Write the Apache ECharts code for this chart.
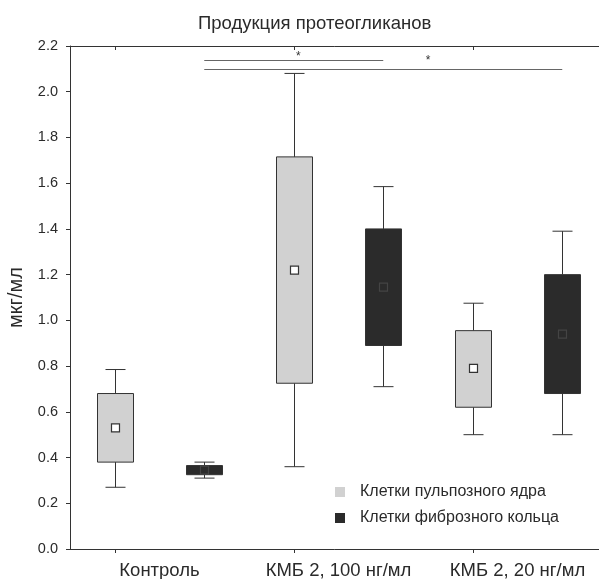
<!DOCTYPE html>
<html>
<head>
<meta charset="utf-8">
<script src="https://cdn.jsdelivr.net/npm/echarts@6/dist/echarts.min.js"></script>
<style>html,body{margin:0;padding:0;background:#fff;}#c{width:599px;height:579px;}</style>
</head>
<body>
<div id="c"></div>
<script>
// ---- data ----
const categories = ['Контроль', 'КМБ 2, 100 нг/мл', 'КМБ 2, 20 нг/мл'];
const seriesNames = ['Клетки пульпозного ядра', 'Клетки фиброзного кольца'];
const yTicks = [0, 0.2, 0.4, 0.6, 0.8, 1.0, 1.2, 1.4, 1.6, 1.8, 2.0, 2.2];

// Клетки пульпозного ядра
const pulpMin = [0.27, 0.36, 0.50];
const pulpQ1  = [0.38, 0.725, 0.62];
const pulpQ3  = [0.68, 1.715, 0.955];
const pulpMax = [0.785, 2.08, 1.075];
const pulpMid = [0.53, 1.22, 0.79];

// Клетки фиброзного кольца
const fibMin = [0.31, 0.71, 0.50];
const fibQ1  = [0.325, 0.89, 0.68];
const fibQ3  = [0.365, 1.40, 1.20];
const fibMax = [0.38, 1.585, 1.39];
const fibMid = [0.345, 1.145, 0.94];

// significance brackets (slot indices: group*2 + series)
const sigFrom  = [1, 1];
const sigTo    = [3, 5];
const sigLevel = [2.14, 2.10];
const sigStarX = [2.05, 3.5];
const sigStarY = [2.155, 2.135];
const sigText  = ['*', '*'];

// ---- build ----
const slots = [];
categories.forEach(c => { slots.push(c + ' / 1'); slots.push(c + ' / 2'); });
const pulpData = categories.map((c, i) => [i * 2, pulpMin[i], pulpQ1[i], pulpQ3[i], pulpMax[i], pulpMid[i]]);
const fibData  = categories.map((c, i) => [i * 2 + 1, fibMin[i], fibQ1[i], fibQ3[i], fibMax[i], fibMid[i]]);
const sigData  = sigFrom.map((f, i) => [f, sigTo[i], sigLevel[i], sigStarX[i], sigStarY[i]]);

const FONT = '"Liberation Sans", Arial, sans-serif';
const INK = '#2a2a2a';

function makeBox(markerFill, markerStroke) {
  return function (params, api) {
    const x = api.value(0);
    const pMin = api.coord([x, api.value(1)]);
    const pQ1 = api.coord([x, api.value(2)]);
    const pQ3 = api.coord([x, api.value(3)]);
    const pMax = api.coord([x, api.value(4)]);
    const pMid = api.coord([x, api.value(5)]);
    const cx = Math.round(pMin[0]) + 0.5;
    const hw = 18, cw = 10, ms = 4;
    const ls = { stroke: '#333', lineWidth: 1 };
    return {
      type: 'group',
      children: [
        { type: 'line', shape: { x1: cx, y1: pMax[1], x2: cx, y2: pQ3[1] }, style: ls },
        { type: 'line', shape: { x1: cx, y1: pQ1[1], x2: cx, y2: pMin[1] }, style: ls },
        { type: 'line', shape: { x1: cx - cw, y1: pMax[1], x2: cx + cw, y2: pMax[1] }, style: ls },
        { type: 'line', shape: { x1: cx - cw, y1: pMin[1], x2: cx + cw, y2: pMin[1] }, style: ls },
        { type: 'rect', shape: { x: cx - hw, y: pQ3[1], width: hw * 2, height: pQ1[1] - pQ3[1] },
          style: { fill: api.visual('color'), stroke: '#333', lineWidth: 1 } },
        { type: 'rect', shape: { x: cx - ms, y: pMid[1] - ms, width: ms * 2, height: ms * 2 },
          style: { fill: markerFill, stroke: markerStroke, lineWidth: 1.2 } }
      ]
    };
  };
}

function lerpCoord(api, xv, yv) {
  const i0 = Math.floor(xv), i1 = Math.ceil(xv);
  const a = api.coord([i0, yv]), b = api.coord([i1, yv]);
  const t = xv - i0;
  return [a[0] + (b[0] - a[0]) * t, a[1]];
}

function sigRender(params, api) {
  const a = api.coord([api.value(0), api.value(2)]);
  const b = api.coord([api.value(1), api.value(2)]);
  const s = lerpCoord(api, api.value(3), api.value(4));
  const y = Math.round(a[1]) + 0.5;
  return {
    type: 'group',
    children: [
      { type: 'line', shape: { x1: a[0], y1: y, x2: b[0], y2: y }, style: { stroke: '#666', lineWidth: 1 } },
      { type: 'text', x: s[0], y: s[1],
        style: { text: sigText[params.dataIndex], fill: '#333', font: '12px ' + FONT, align: 'center', verticalAlign: 'middle' } }
    ]
  };
}

const chart = echarts.init(document.getElementById('c'), null, { renderer: 'canvas' });
chart.setOption({
  backgroundColor: '#ffffff',
  animation: false,
  title: {
    text: 'Продукция протеогликанов',
    left: 193, top: 9,
    textStyle: { fontFamily: FONT, fontSize: 18.5, fontWeight: 'normal', color: INK }
  },
  legend: {
    data: seriesNames,
    orient: 'vertical',
    left: 330, top: 479,
    icon: 'rect', itemWidth: 10, itemHeight: 10, itemGap: 10,
    textStyle: { fontFamily: FONT, fontSize: 16, color: INK, padding: [0, 0, 0, 10] }
  },
  grid: { left: 70, right: -8, top: 46, bottom: 30, containLabel: false, outerBoundsMode: 'none' },
  xAxis: [
    {
      type: 'category', data: slots, position: 'bottom', boundaryGap: true,
      axisLine: { show: true, lineStyle: { color: '#333', width: 1 } },
      axisTick: { show: true, alignWithLabel: true, inside: false, length: 4, lineStyle: { color: '#333' } },
      axisLabel: { show: false }, splitLine: { show: false }
    },
    {
      type: 'category', data: categories, position: 'bottom', boundaryGap: true,
      axisLine: { show: false }, axisTick: { show: false },
      axisLabel: { show: true, interval: 0, hideOverlap: false, margin: 12, fontFamily: FONT, fontSize: 18.5, color: INK },
      splitLine: { show: false }
    },
    {
      type: 'category', data: slots, position: 'top', boundaryGap: true,
      axisLine: { show: true, lineStyle: { color: '#333', width: 1 } },
      axisTick: { show: true, alignWithLabel: true, inside: true, length: 4, lineStyle: { color: '#333' } },
      axisLabel: { show: false }, splitLine: { show: false }
    }
  ],
  yAxis: {
    type: 'value', min: 0, max: 2.2, interval: 0.2,
    name: 'мкг/мл', nameLocation: 'middle', nameGap: 29,
    nameTextStyle: { fontFamily: FONT, fontSize: 20, color: INK },
    axisLine: { show: true, lineStyle: { color: '#333', width: 1 } },
    axisTick: { show: true, inside: false, length: 4, lineStyle: { color: '#333' } },
    axisLabel: { margin: 12, fontFamily: FONT, fontSize: 14.5, color: INK,
      formatter: v => { const t = yTicks.find(k => Math.abs(k - v) < 1e-6); return (t !== undefined ? t : v).toFixed(1); } },
    splitLine: { show: false }
  },
  series: [
    {
      name: seriesNames[0], type: 'custom', xAxisIndex: 0, yAxisIndex: 0,
      itemStyle: { color: '#d1d1d1' },
      renderItem: makeBox('#ffffff', '#333'),
      encode: { x: 0, y: [1, 2, 3, 4, 5] },
      data: pulpData
    },
    {
      name: seriesNames[1], type: 'custom', xAxisIndex: 0, yAxisIndex: 0,
      itemStyle: { color: '#2b2b2b' },
      renderItem: makeBox('#2b2b2b', '#444'),
      encode: { x: 0, y: [1, 2, 3, 4, 5] },
      data: fibData
    },
    {
      name: 'sig', type: 'custom', xAxisIndex: 0, yAxisIndex: 0,
      renderItem: sigRender,
      encode: { x: [0, 1], y: 2 },
      data: sigData, silent: true
    }
  ]
});
</script>
</body>
</html>
